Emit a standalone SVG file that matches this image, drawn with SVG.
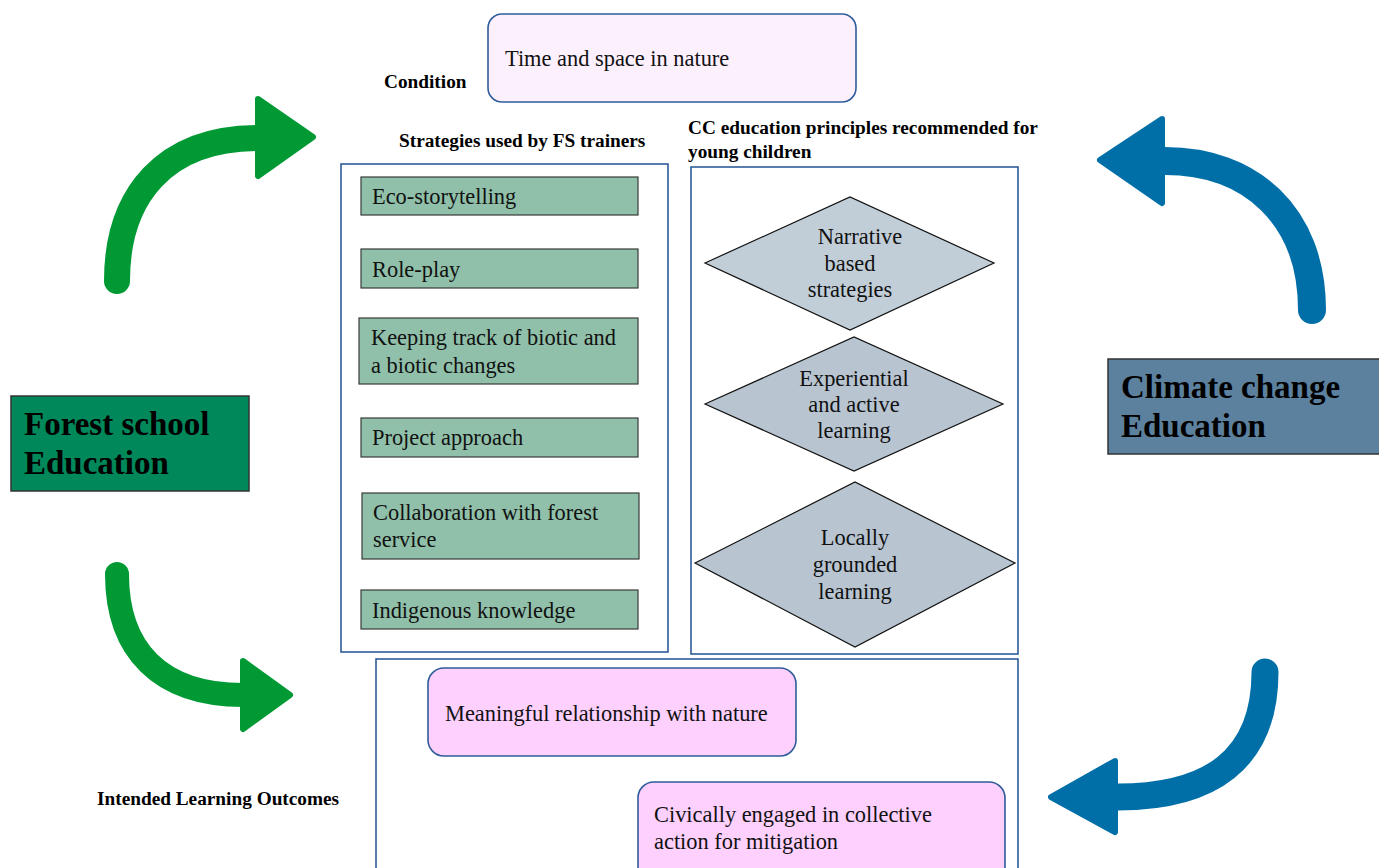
<svg xmlns="http://www.w3.org/2000/svg" width="1379" height="868" viewBox="0 0 1379 868">
<style>
  .lbl{font-family:"Liberation Serif","Times New Roman",serif;font-weight:bold;font-size:19.3px;fill:#000}
  .txt{font-family:"Liberation Serif","Times New Roman",serif;font-size:22.4px;fill:#111}
  .big{font-family:"Liberation Serif","Times New Roman",serif;font-weight:bold;font-size:33px;fill:#000}
  .frame{fill:#fff;stroke:#2e5c9a;stroke-width:1.6}
  .strat{fill:#90c0a9;stroke:#3a3a3a;stroke-width:1.2}
  .dia1{fill:#c1ced8;stroke:#111;stroke-width:1.2}
  .dia2{fill:#b8c5d1;stroke:#111;stroke-width:1.2}
  .pink{fill:#fdd0fd;stroke:#2e5c9a;stroke-width:1.6}
  .lav{fill:#fdf0fd;stroke:#2e5c9a;stroke-width:1.6}
  .gArrow{fill:none;stroke:#009933;stroke-linecap:round}
  .gHead{fill:#009933;stroke:#009933;stroke-width:6;stroke-linejoin:round}
  .bArrow{fill:none;stroke:#006fa8;stroke-linecap:round}
  .bHead{fill:#006fa8;stroke:#006fa8;stroke-width:6;stroke-linejoin:round}
</style>
<rect width="1379" height="868" fill="#fff"/>

<g id="connectors">
  <path class="gArrow" stroke-width="26" d="M117,281 C117,195 165,138 258,138"/>
  <polygon class="gHead" points="258,99 313,137 258,176"/>
  <path class="bArrow" stroke-width="28" d="M1312,310 C1312,215 1250,161 1165,161"/>
  <polygon class="bHead" points="1162,119 1100,160 1162,203"/>
  <path class="gArrow" stroke-width="24" d="M117,574 C117,650 160,695 243,695"/>
  <polygon class="gHead" points="243,661 290,695 243,729"/>
  <path class="bArrow" stroke-width="27" d="M1265,672 C1265,760 1210,797 1118,797"/>
  <polygon class="bHead" points="1115,761 1051,797 1115,832"/>
</g>

<g id="labels">
  <text class="lbl" x="384" y="88">Condition</text>
  <text class="lbl" x="399" y="147">Strategies used by FS trainers</text>
  <text class="lbl" x="688" y="134">CC education principles recommended for</text>
  <text class="lbl" x="688" y="158">young children</text>
  <text class="lbl" x="97" y="805">Intended Learning Outcomes</text>
</g>

<g id="forest-school">
  <rect x="11" y="396" width="238" height="95" fill="#00875a" stroke="#333" stroke-width="1.5"/>
  <text class="big" x="24" y="435">Forest school</text>
  <text class="big" x="24" y="474">Education</text>
</g>

<g id="climate-change">
  <rect x="1108" y="359" width="280" height="95" fill="#5c819f" stroke="#333" stroke-width="1.5"/>
  <text class="big" x="1121" y="398">Climate change</text>
  <text class="big" x="1121" y="437">Education</text>
</g>

<g id="condition">
  <rect class="lav" x="488" y="14" width="368" height="88" rx="14"/>
  <text class="txt" x="505" y="66">Time and space in nature</text>
</g>

<g id="strategies-frame">
  <rect class="frame" x="341" y="164" width="327" height="488"/>
</g>
<g id="s-eco">
  <rect class="strat" x="361" y="177" width="277" height="38"/>
  <text class="txt" x="372" y="204">Eco-storytelling</text>
</g>
<g id="s-role">
  <rect class="strat" x="361" y="249" width="277" height="39"/>
  <text class="txt" x="372" y="277">Role-play</text>
</g>
<g id="s-track">
  <rect class="strat" x="359" y="318" width="279" height="66"/>
  <text class="txt" x="371" y="345">Keeping track of biotic and</text>
  <text class="txt" x="371" y="373">a biotic changes</text>
</g>
<g id="s-project">
  <rect class="strat" x="361" y="418" width="277" height="39"/>
  <text class="txt" x="372" y="445">Project approach</text>
</g>
<g id="s-collab">
  <rect class="strat" x="362" y="493" width="277" height="66"/>
  <text class="txt" x="373" y="520">Collaboration with forest</text>
  <text class="txt" x="373" y="547">service</text>
</g>
<g id="s-indigenous">
  <rect class="strat" x="361" y="590" width="277" height="39"/>
  <text class="txt" x="372" y="618">Indigenous knowledge</text>
</g>

<g id="principles-frame">
  <rect class="frame" x="691" y="167" width="327" height="487"/>
</g>
<g id="p-narrative">
  <polygon class="dia1" points="705,263 850,197 994,263 850,330"/>
  <text class="txt" x="860" y="244" text-anchor="middle">Narrative</text>
  <text class="txt" x="850" y="271" text-anchor="middle">based</text>
  <text class="txt" x="850" y="297" text-anchor="middle">strategies</text>
</g>
<g id="p-experiential">
  <polygon class="dia2" points="705,404 854,337 1003,404 854,471"/>
  <text class="txt" x="854" y="386" text-anchor="middle">Experiential</text>
  <text class="txt" x="854" y="412" text-anchor="middle">and active</text>
  <text class="txt" x="854" y="438" text-anchor="middle">learning</text>
</g>
<g id="p-local">
  <polygon class="dia2" points="695,563 855,482 1015,563 855,647"/>
  <text class="txt" x="855" y="545" text-anchor="middle">Locally</text>
  <text class="txt" x="855" y="572" text-anchor="middle">grounded</text>
  <text class="txt" x="855" y="599" text-anchor="middle">learning</text>
</g>

<g id="outcomes-frame">
  <rect class="frame" x="376" y="659" width="642" height="220"/>
</g>
<g id="o-meaningful">
  <rect class="pink" x="428" y="668" width="368" height="88" rx="16"/>
  <text class="txt" x="445" y="721">Meaningful relationship with nature</text>
</g>
<g id="o-civic">
  <rect class="pink" x="638" y="782" width="367" height="110" rx="16"/>
  <text class="txt" x="654" y="822">Civically engaged in collective</text>
  <text class="txt" x="654" y="849">action for mitigation</text>
</g>
</svg>
